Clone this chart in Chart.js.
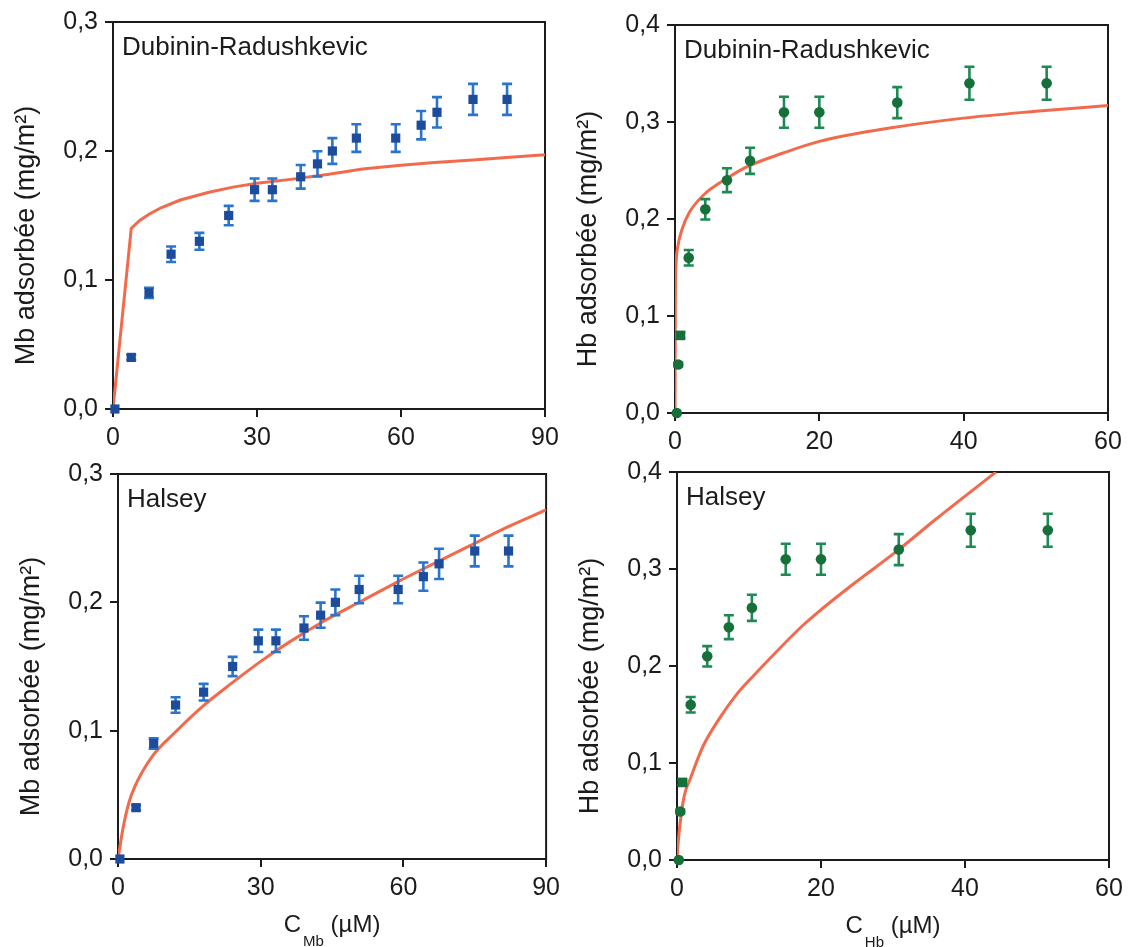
<!DOCTYPE html>
<html lang="fr">
<head>
<meta charset="utf-8">
<title>Isothermes d'adsorption Mb / Hb</title>
<script src="https://cdn.jsdelivr.net/npm/chart.js@4.4.1/dist/chart.umd.min.js"></script>
<style>
html,body{margin:0;padding:0;background:#fff;}
body{width:1133px;height:947px;position:relative;overflow:hidden;}
canvas{position:absolute;}
</style>
</head>
<body>
<canvas id="p1" width="566" height="450" style="left:0;top:0"></canvas>
<canvas id="p2" width="567" height="450" style="left:566px;top:0"></canvas>
<canvas id="p3" width="566" height="497" style="left:0;top:450px"></canvas>
<canvas id="p4" width="567" height="497" style="left:566px;top:450px"></canvas>
<script>
// ---------------- DATA ----------------
// Myoglobin (Mb) measured adsorption
const mbConc = [0.4, 3.8, 7.5, 12.1, 18.0, 24.1, 29.5, 33.2, 39.1, 42.6, 45.7, 50.7, 58.9, 64.2, 67.5, 75.0, 82.1];
const mbAds  = [0.0, 0.04, 0.09, 0.12, 0.13, 0.15, 0.17, 0.17, 0.18, 0.19, 0.20, 0.21, 0.21, 0.22, 0.23, 0.24, 0.24];
const mbErr  = [0.0, 0.002, 0.004, 0.006, 0.0065, 0.0075, 0.0087, 0.0087, 0.0092, 0.0098, 0.010, 0.0107, 0.0107, 0.011, 0.0118, 0.012, 0.012];

// Hemoglobin (Hb) measured adsorption
const hbConc = [0.25, 0.45, 0.75, 1.9, 4.2, 7.2, 10.4, 15.1, 20.0, 30.8, 40.8, 51.5];
const hbAds  = [0.0, 0.05, 0.08, 0.16, 0.21, 0.24, 0.26, 0.31, 0.31, 0.32, 0.34, 0.34];
const hbErr  = [0.0, 0.002, 0.003, 0.008, 0.0105, 0.0123, 0.0135, 0.016, 0.016, 0.016, 0.017, 0.017];

// Dubinin-Radushkevic fit curves
const drMbConc = [0, 3.8, 5.5, 7.5, 10, 14, 20, 25, 30, 37, 45, 52, 60, 67, 75, 82, 90];
const drMbAds  = [0, 0.140, 0.146, 0.151, 0.156, 0.162, 0.168, 0.172, 0.175, 0.178, 0.182, 0.186, 0.189, 0.191, 0.193, 0.195, 0.197];
const drHbConc = [0, 0.05, 0.15, 0.4, 1, 2, 4, 7, 10, 15, 20, 30, 40, 50, 60];
const drHbAds  = [0, 0.12, 0.155, 0.172, 0.19, 0.207, 0.225, 0.241, 0.254, 0.268, 0.280, 0.294, 0.304, 0.311, 0.317];

// Halsey fit curves
const hsMbConc = [0, 1.1, 2.3, 3.6, 7.2, 11.8, 17.8, 23.9, 30, 36, 43.6, 51.2, 58.8, 66.3, 73.9, 81.5, 90];
const hsMbAds  = [0, 0.025, 0.044, 0.057, 0.080, 0.098, 0.119, 0.137, 0.154, 0.169, 0.186, 0.201, 0.216, 0.230, 0.244, 0.258, 0.272];
const hsHbConc = [0, 0.15, 0.6, 1.1, 1.8, 3.6, 5.9, 8.2, 10.5, 12.8, 17.5, 20, 24.4, 30.8, 35.9, 40.5, 44.3];
const hsHbAds  = [0, 0.017, 0.048, 0.069, 0.083, 0.117, 0.146, 0.170, 0.189, 0.207, 0.242, 0.258, 0.284, 0.320, 0.351, 0.378, 0.400];

// Tick labels
const mbXTicks = ['0', '30', '60', '90'];
const hbXTicks = ['0', '20', '40', '60'];
const mbYTicks = ['0,0', '0,1', '0,2', '0,3'];
const hbYTicks = ['0,0', '0,1', '0,2', '0,3', '0,4'];

// Texts
const modelDR = 'Dubinin-Radushkevic';
const modelHalsey = 'Halsey';
const mbYTitle = 'Mb adsorbée (mg/m²)';
const hbYTitle = 'Hb adsorbée (mg/m²)';
const xTitleMain = 'C';
const mbSub = 'Mb';
const hbSub = 'Hb';
const xTitleUnit = ' (µM)';

// ---------------- STYLE ----------------
const FONT = '"Liberation Sans", Arial, Helvetica, sans-serif';
const AX = '#1b1b1b';
const CURVE = '#f26a4b';
const BLUE = '#1e4c9c';
const BLUE_ERR = '#2a74cc';
const GREEN = '#16703a';
const GREEN_ERR = '#1c8a52';
const hbSquareIndex = 2;

const decoPlugin = {
  id: 'panelDeco',
  beforeDatasetsDraw(chart, args, o) {
    const {ctx, chartArea: a} = chart;
    ctx.save();
    ctx.strokeStyle = AX;
    ctx.lineWidth = 2;
    ctx.strokeRect(a.left, a.top, a.right - a.left, a.bottom - a.top);
    ctx.restore();
  },
  afterDatasetDraw(chart, args, o) {
    if (args.index !== 1) return;
    const {ctx} = chart;
    const xs = chart.scales.x, ys = chart.scales.y;
    ctx.save();
    ctx.strokeStyle = o.errColor;
    ctx.lineWidth = 2.6;
    o.ex.forEach((xv, i) => {
      const e = o.ee[i];
      if (!e) return;
      const px = xs.getPixelForValue(xv);
      const pt = ys.getPixelForValue(o.ey[i] + e);
      const pb = ys.getPixelForValue(o.ey[i] - e);
      ctx.beginPath();
      ctx.moveTo(px, pt); ctx.lineTo(px, pb);
      ctx.moveTo(px - 5, pt); ctx.lineTo(px + 5, pt);
      ctx.moveTo(px - 5, pb); ctx.lineTo(px + 5, pb);
      ctx.stroke();
    });
    ctx.restore();
  },
  afterDraw(chart, args, o) {
    const {ctx, chartArea: a} = chart;
    ctx.save();
    ctx.fillStyle = AX;
    // model name inside plot
    ctx.font = '26px ' + FONT;
    ctx.textAlign = 'left';
    ctx.textBaseline = 'alphabetic';
    ctx.fillText(o.label, a.left + 9, a.top + 33);
    // y title (rotated)
    ctx.save();
    ctx.translate(a.left - 86, (a.top + a.bottom) / 2 + 20);
    ctx.rotate(-Math.PI / 2);
    ctx.textAlign = 'center';
    ctx.textBaseline = 'middle';
    ctx.font = '27px ' + FONT;
    ctx.fillText(o.yTitle, 0, 0);
    ctx.restore();
    // x title with subscript
    if (o.xSub) {
      const base = a.bottom + 73;
      const cx = (a.left + a.right) / 2;
      ctx.font = '24px ' + FONT;
      const w1 = ctx.measureText(xTitleMain).width;
      const w3 = ctx.measureText(xTitleUnit).width;
      ctx.font = '15px ' + FONT;
      const w2 = ctx.measureText(o.xSub).width;
      let x = cx - (w1 + w2 + w3 + 2) / 2;
      ctx.font = '24px ' + FONT;
      ctx.fillText(xTitleMain, x, base);
      x += w1 + 2;
      ctx.font = '15px ' + FONT;
      ctx.fillText(o.xSub, x, base + 14);
      x += w2;
      ctx.font = '24px ' + FONT;
      ctx.fillText(xTitleUnit, x, base);
    }
    ctx.restore();
  }
};

function pts(xs, ys) { return xs.map((x, i) => ({x: x, y: ys[i]})); }

function makeChart(id, c) {
  return new Chart(document.getElementById(id), {
    type: 'scatter',
    data: {
      datasets: [
        {
          label: c.seriesName,
          data: pts(c.px, c.py),
          pointStyle: c.pointStyle,
          pointRadius: c.pointRadius,
          backgroundColor: c.markerColor,
          borderColor: c.markerColor,
          borderWidth: 0,
          showLine: false,
          clip: false
        },
        {
          label: c.fitName,
          data: pts(c.fx, c.fy),
          showLine: true,
          pointRadius: 0,
          borderColor: CURVE,
          borderWidth: 3,
          tension: c.tension,
          cubicInterpolationMode: c.mode,
          fill: false
        }
      ]
    },
    options: {
      responsive: false,
      animation: false,
      events: [],
      layout: {padding: c.pad},
      plugins: {
        legend: {display: false},
        tooltip: {enabled: false},
        panelDeco: {label: c.label, yTitle: c.yTitle, xSub: c.xSub,
          ex: c.px, ey: c.py, ee: c.pe, errColor: c.errColor}
      },
      scales: {
        x: {
          type: 'linear', min: 0, max: c.xMax,
          ticks: {stepSize: c.xStep, autoSkip: false, maxRotation: 0, padding: 6,
            color: AX, font: {family: FONT, size: 25},
            callback: v => c.xTicks[Math.round(v / c.xStep)]},
          grid: {drawOnChartArea: false, drawTicks: true, tickLength: 8, color: AX, lineWidth: 2},
          border: {display: true, color: AX, width: 2},
          afterFit: s => { s.height = c.xH; }
        },
        y: {
          type: 'linear', min: 0, max: c.yMax,
          ticks: {stepSize: 0.1, autoSkip: false, padding: 7,
            color: AX, font: {family: FONT, size: 25},
            callback: v => c.yTicks[Math.round(v / 0.1)]},
          grid: {drawOnChartArea: false, drawTicks: true, tickLength: 8, color: AX, lineWidth: 2},
          border: {display: true, color: AX, width: 2},
          afterFit: s => { s.width = c.yW; }
        }
      }
    },
    plugins: [decoPlugin]
  });
}

const mbCommon = {seriesName: 'Mb', px: mbConc, py: mbAds, pe: mbErr, pointStyle: 'rect', pointRadius: 6.5,
  markerColor: BLUE, errColor: BLUE_ERR, yTitle: mbYTitle, xMax: 90, xStep: 30, yMax: 0.3,
  xTicks: mbXTicks, yTicks: mbYTicks};
const hbCommon = {seriesName: 'Hb', px: hbConc, py: hbAds, pe: hbErr,
  pointStyle: ctx => ctx.dataIndex === hbSquareIndex ? 'rect' : 'circle',
  pointRadius: ctx => ctx.dataIndex === hbSquareIndex ? 6.8 : 5.3,
  markerColor: GREEN, errColor: GREEN_ERR, yTitle: hbYTitle, xMax: 60, xStep: 20, yMax: 0.4,
  xTicks: hbXTicks, yTicks: hbYTicks};

makeChart('p1', Object.assign({}, mbCommon, {label: modelDR, fitName: modelDR, fx: drMbConc, fy: drMbAds,
  tension: 0, mode: 'default', xSub: null,
  pad: {left: 0, top: 22, right: 21, bottom: 0}, yW: 113, xH: 41}));
makeChart('p2', Object.assign({}, hbCommon, {label: modelDR, fitName: modelDR, fx: drHbConc, fy: drHbAds,
  tension: 0.4, mode: 'monotone', xSub: null,
  pad: {left: 0, top: 25, right: 25, bottom: 0}, yW: 109, xH: 37}));
makeChart('p3', Object.assign({}, mbCommon, {label: modelHalsey, fitName: modelHalsey, fx: hsMbConc, fy: hsMbAds,
  tension: 0.4, mode: 'monotone', xSub: mbSub,
  pad: {left: 0, top: 24, right: 16, bottom: 0}, yW: 118, xH: 88}));
makeChart('p4', Object.assign({}, hbCommon, {label: modelHalsey, fitName: modelHalsey, fx: hsHbConc, fy: hsHbAds,
  tension: 0.4, mode: 'monotone', xSub: hbSub,
  pad: {left: 0, top: 22, right: 24, bottom: 0}, yW: 111, xH: 87}));
</script>
</body>
</html>
